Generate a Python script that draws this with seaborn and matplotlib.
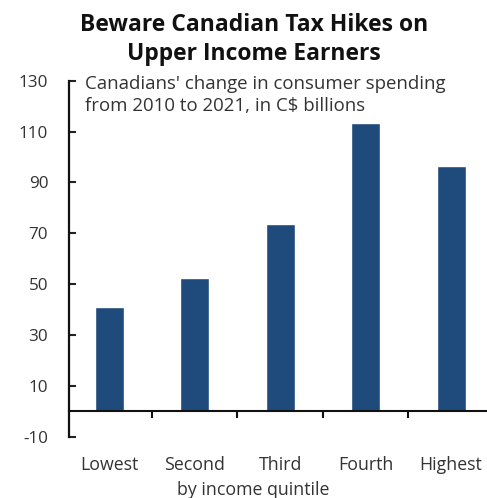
import matplotlib
matplotlib.use("Agg")
import matplotlib.pyplot as plt
import seaborn as sns
import pandas as pd

categories = ["Lowest", "Second", "Third", "Fourth", "Highest"]
values = [41, 52.5, 73.5, 113.5, 96.5]
yticks = [-10, 10, 30, 50, 70, 90, 110, 130]

sns.set_style("white")
plt.rcParams['font.family'] = ['Open Sans', 'DejaVu Sans']

df = pd.DataFrame({"quintile": categories, "value": values})

fig = plt.figure(figsize=(4.87, 4.98), dpi=100)
ax = fig.add_axes([69/487, 1-436.7/498, 1-69/487, (436.7-80.7)/498])

sns.barplot(data=df, x="quintile", y="value", color="#1f4a7c", width=0.34,
            saturation=1, ax=ax)

ax.set_ylim(-10, 130)
ax.set_xlim(-0.47, 4.42)
ax.set_yticks(yticks)
ax.set_yticklabels([str(t) for t in yticks])
ax.tick_params(axis='y', direction='in', length=5, width=1.5, pad=15,
               labelsize=12.3, colors='#222222', labelcolor='#333333', left=True)
ax.spines['left'].set_linewidth(1.6)
ax.spines['left'].set_color('#111111')
for s in ['top', 'right']:
    ax.spines[s].set_visible(False)
ax.spines['bottom'].set_position(('data', 0))
ax.spines['bottom'].set_linewidth(1.5)
ax.spines['bottom'].set_color('#111111')

ax.set_xticks(range(len(categories)))
ax.set_xticklabels(categories)
ax.set_xticks([0.5, 1.5, 2.5, 3.5], minor=True)
ax.tick_params(axis='x', which='major', length=0, pad=32, labelsize=12.8,
               labelcolor='#333333')
ax.tick_params(axis='x', which='minor', direction='out', length=5, width=1.5,
               color='#111111', bottom=True)
ax.set_xlabel("")
ax.set_ylabel("")

fig.text(254/487, 1-25/498, "Beware Canadian Tax Hikes on", ha='center', va='center',
         fontsize=16.5, fontweight='bold', color='#111111')
fig.text(254/487, 1-54/498, "Upper Income Earners", ha='center', va='center',
         fontsize=16.5, fontweight='bold', color='#111111')
fig.text(85/487, 1-84/498, "Canadians' change in consumer spending", ha='left', va='center',
         fontsize=13.4, color='#333333')
fig.text(85/487, 1-106/498, "from 2010 to 2021, in C$ billions", ha='left', va='center',
         fontsize=13.4, color='#333333')
fig.text(253/487, 1-490/498, "by income quintile", ha='center', va='center',
         fontsize=12.8, color='#333333')

fig.savefig("out.png", dpi=100)
